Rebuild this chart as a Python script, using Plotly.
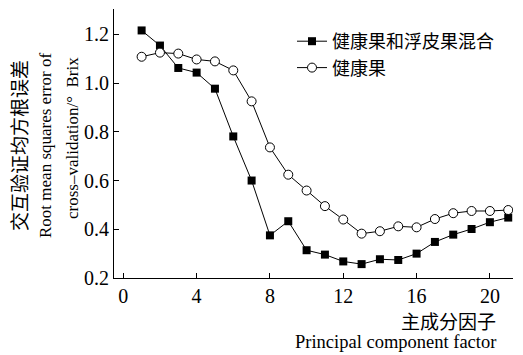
import plotly.graph_objects as go

# ---- data ----
pc = list(range(1, 22))
mixed = [1.216, 1.154, 1.062, 1.043, 0.977, 0.781, 0.600, 0.375, 0.433, 0.314,
         0.296, 0.268, 0.257, 0.277, 0.274, 0.300, 0.348, 0.378, 0.401, 0.429, 0.448]
healthy = [1.108, 1.125, 1.121, 1.097, 1.089, 1.052, 0.925, 0.736, 0.624, 0.559,
           0.495, 0.440, 0.382, 0.392, 0.412, 0.408, 0.442, 0.466, 0.475, 0.475, 0.479]
name_mixed = "健康果和浮皮果混合"
name_healthy = "健康果"
x_ticks = [0, 4, 8, 12, 16, 20]
y_ticks = [0.2, 0.4, 0.6, 0.8, 1.0, 1.2]

W, H = 523, 355
L, R, T, B = 114, 10, 9, 77
PW, PH = W - L - R, H - T - B

def px(x):
    return (x - L) / PW

def py(y):
    return (H - B - y) / PH

SERIF = "Liberation Serif"
CJK = "Noto Sans CJK SC"

fig = go.Figure()
fig.add_trace(go.Scatter(
    x=pc, y=mixed, name=name_mixed, mode="lines+markers",
    line=dict(color="black", width=1),
    marker=dict(symbol="square", size=8, color="black"),
))
fig.add_trace(go.Scatter(
    x=pc, y=healthy, name=name_healthy, mode="lines+markers",
    line=dict(color="black", width=1),
    marker=dict(symbol="circle", size=9, color="white", line=dict(color="black", width=1)),
))

axis_common = dict(
    showline=True, linecolor="black", linewidth=1, mirror=False,
    ticks="inside", ticklen=5, tickcolor="black", tickwidth=1,
    showgrid=False, zeroline=False,
    tickfont=dict(family=SERIF, size=20, color="black"),
)
fig.update_xaxes(range=[-0.507, 21.26], tickvals=x_ticks, **axis_common)
fig.update_yaxes(range=[0.2, 1.304], tickvals=y_ticks, tickformat=".1f", **axis_common)

ann = []
# y-axis title (three lines)
ann.append(dict(text="交互验证均方根误差", x=px(18), y=py(146), textangle=-90,
                font=dict(family=CJK, size=19, color="black")))
ann.append(dict(text="Root mean squares error of", x=px(45), y=py(146), textangle=-90,
                font=dict(family=SERIF, size=17, color="black")))
ann.append(dict(text="cross\u2013validation/°  Brix", x=px(72), y=py(138), textangle=-90,
                font=dict(family=SERIF, size=17, color="black")))
# x-axis title (two lines)
ann.append(dict(text="主成分因子", x=px(498), y=py(320), xanchor="right",
                font=dict(family=CJK, size=19, color="black")))
ann.append(dict(text="Principal component factor", x=px(498), y=py(342), xanchor="right",
                font=dict(family=SERIF, size=18.5, color="black")))
for a in ann:
    a.update(xref="paper", yref="paper", showarrow=False)
    a.setdefault("xanchor", "center")
    a.setdefault("yanchor", "middle")

fig.update_layout(
    width=W, height=H,
    margin=dict(l=L, r=R, t=T, b=B),
    paper_bgcolor="white", plot_bgcolor="white",
    showlegend=True,
    legend=dict(x=px(292), y=py(23), xanchor="left", yanchor="top",
                bgcolor="rgba(0,0,0,0)", font=dict(family=CJK, size=18, color="black"),
                tracegroupgap=0),
    annotations=ann,
)
fig.write_html("out.html")
